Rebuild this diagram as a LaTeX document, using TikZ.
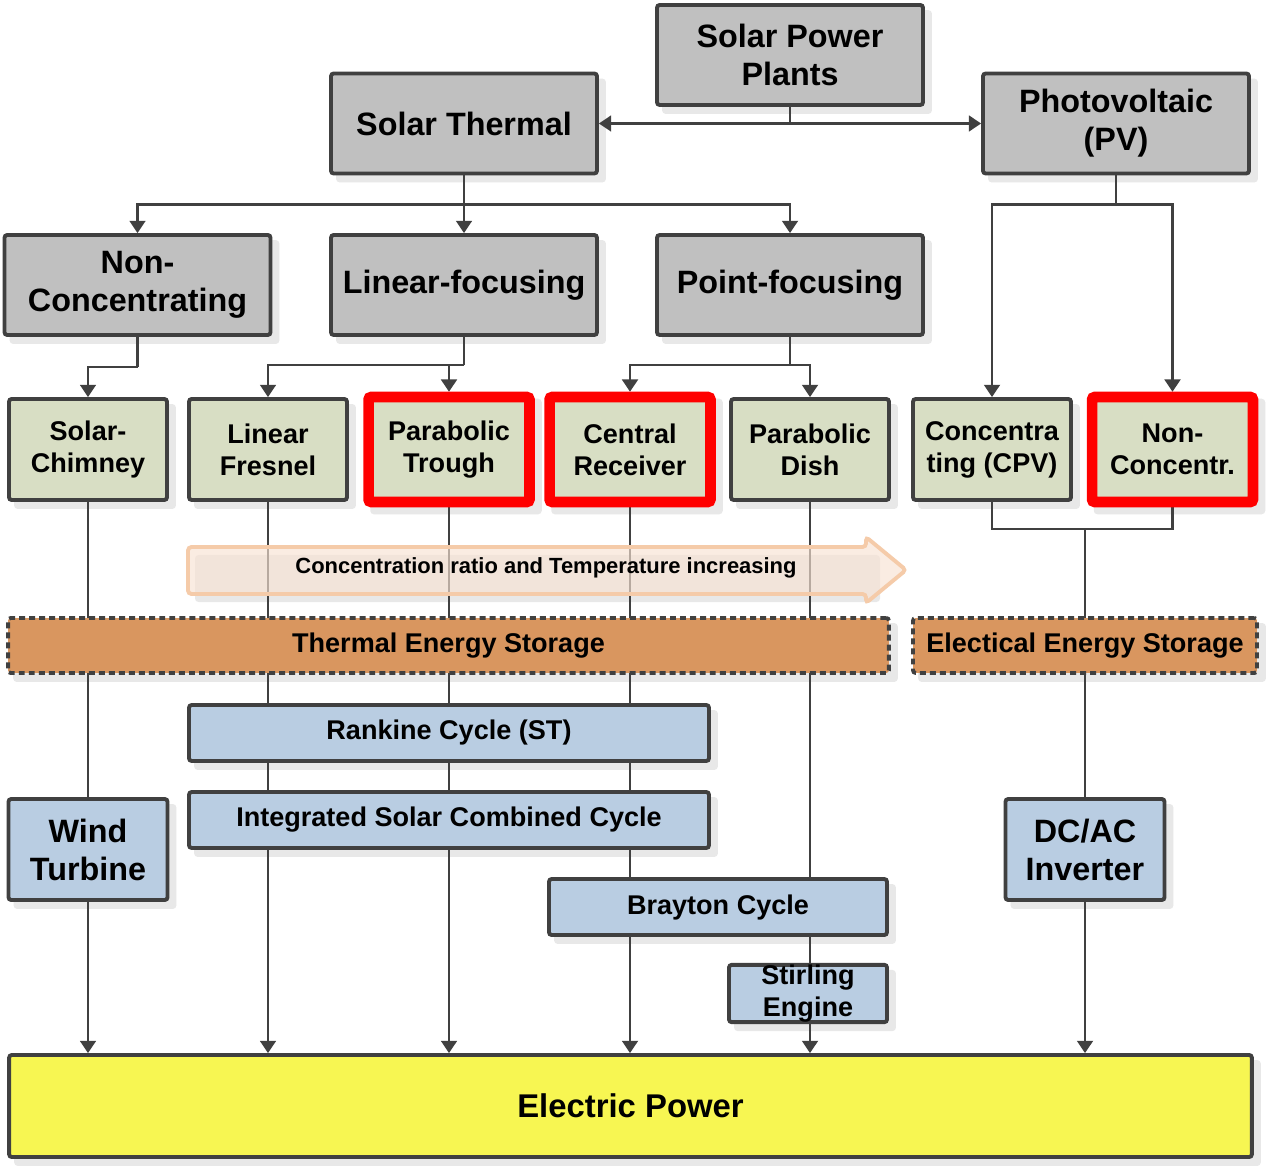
\documentclass[tikz,border=0pt]{standalone}
\usepackage{fontspec}
\setmainfont{Liberation Sans}
\usetikzlibrary{arrows.meta,calc}
\pgfdeclarelayer{shadowl}
\pgfdeclarelayer{lines}
\pgfsetlayers{shadowl,lines,main}
\definecolor{edge}{HTML}{404040}
\definecolor{grayfill}{HTML}{C0C0C0}
\definecolor{greenfill}{HTML}{D8DEC4}
\definecolor{bluefill}{HTML}{B9CDE2}
\definecolor{orangefill}{HTML}{D9965F}
\definecolor{yellowfill}{HTML}{F7F652}
\definecolor{arrowfill}{HTML}{F8E2D3}
\definecolor{arrowedge}{HTML}{F5CBA9}
\definecolor{shadowc}{HTML}{E8E8E8}
\definecolor{redc}{HTML}{FF0000}
\tikzset{
  basebox/.style={draw=edge, line width=2.2pt, rounded corners=1.5pt, align=center, inner sep=0pt, text=black},
  bigtxt/.style={font=\bfseries\fontsize{18.4}{21.6}\selectfont},
  smalltxt/.style={font=\bfseries\fontsize{15.4}{18.2}\selectfont},
  graybox/.style={basebox, bigtxt, fill=grayfill, minimum width=5.32cm, minimum height=2.0cm},
  leafbox/.style={basebox, smalltxt, fill=greenfill, minimum width=3.16cm, minimum height=2.02cm},
  redbox/.style={leafbox, draw=redc, line width=6pt, minimum width=3.22cm, minimum height=2.1cm},
  storebox/.style={basebox, smalltxt, fill=orangefill, dash pattern=on 3.4pt off 2.3pt, minimum height=1.1cm},
  cyclebox/.style={basebox, smalltxt, fill=bluefill, minimum height=1.12cm},
  bigblue/.style={basebox, bigtxt, fill=bluefill, minimum width=3.18cm, minimum height=2.02cm},
  conn/.style={draw=edge, line width=1.4pt},
  tip/.style={conn, -{Triangle[width=9pt,length=7pt]}}
}
\begin{document}
\begin{tikzpicture}[x=0.02cm,y=-0.02cm]
\useasboundingbox (0,0) rectangle (1267,1168);
% row 1
\node[graybox] (spp) at (790,55) {Solar Power\\Plants};
\node[graybox] (st) at (464,123.5) {Solar Thermal};
\node[graybox] (pv) at (1116,123.5) {Photovoltaic\\(PV)};
% row 2
\node[graybox] (nc) at (137.5,285) {Non-\\Concentrating};
\node[graybox] (lf) at (464,285) {Linear-focusing};
\node[graybox] (pf) at (790,285) {Point-focusing};
% row 3
\node[leafbox] (sc) at (88,449.5) {Solar-\\Chimney};
\node[leafbox] (lfr) at (268,449.5) {Linear\\Fresnel};
\node[redbox] (pt) at (449,449.5) {Parabolic\\Trough};
\node[redbox] (cr) at (630,449.5) {Central\\Receiver};
\node[leafbox] (pd) at (810,449.5) {Parabolic\\Dish};
\node[leafbox] (cpv) at (992,449.5) {Concentra\\ting (CPV)};
\node[redbox] (ncr) at (1172.5,449.5) {Non-\\Concentr.};
% storage
\node[storebox, minimum width=17.62cm] (tes) at (448.5,645.5) {Thermal Energy Storage};
\node[storebox, minimum width=6.88cm] (ees) at (1085,645.5) {Electical Energy Storage};
% cycles
\node[cyclebox, minimum width=10.4cm] (rk) at (449,733) {Rankine Cycle (ST)};
\node[cyclebox, minimum width=10.4cm] (isc) at (449,820) {Integrated Solar Combined Cycle};
\node[cyclebox, minimum width=6.76cm] (br) at (718,907) {Brayton Cycle};
\node[cyclebox, minimum width=3.16cm, minimum height=1.14cm] (se) at (808,993.5) {Stirling\\Engine};
\node[bigblue] (wt) at (88,849.5) {Wind\\Turbine};
\node[bigblue] (inv) at (1085,849.5) {DC/AC\\Inverter};
% output
\node[basebox, fill=yellowfill, minimum width=24.86cm, minimum height=2.04cm,
      font=\bfseries\fontsize{18.7}{22}\selectfont] (ep) at (630.5,1106) {Electric Power};

% shadows
\begin{pgfonlayer}{shadowl}
\fill[white] (0,0) rectangle (1267,1168);
\foreach \n in {spp,st,pv,nc,lf,pf,sc,lfr,pt,cr,pd,cpv,ncr,tes,ees,rk,isc,br,se,wt,inv,ep}
  \fill[shadowc, rounded corners=2pt] ($(\n.south west)+(7,7)$) rectangle ($(\n.north east)+(7,7)$);
\fill[shadowc, rounded corners=2pt] (195,555) rectangle (880,602);
\end{pgfonlayer}

% connectors
\begin{pgfonlayer}{lines}
\draw[tip] (spp.south) |- (st.east);
\draw[tip] (spp.south) |- (pv.west);
\draw[conn] (st.south) -- ++(0,29) coordinate (j2);
\draw[tip] (j2) -| (nc.north);
\draw[tip] (j2) -| (lf.north);
\draw[tip] (j2) -| (pf.north);
\draw[conn] (pv.south) -- ++(0,29) coordinate (j3);
\draw[tip] (j3) -| (cpv.north);
\draw[tip] (j3) -| (ncr.north);
\draw[conn] (nc.south) -- ++(0,30) coordinate (j4);
\draw[tip] (j4) -| (sc.north);
\draw[conn] (lf.south) -- ++(0,28) coordinate (j5);
\draw[tip] (j5) -| (lfr.north);
\draw[tip] (j5) -| (pt.north);
\draw[conn] (pf.south) -- ++(0,28) coordinate (j6);
\draw[tip] (j6) -| (cr.north);
\draw[tip] (j6) -| (pd.north);
\draw[conn] (sc.south) -- (wt.north);
\draw[tip] (wt.south) -- (wt.south |- ep.north);
\draw[tip] (lfr.south) -- (lfr.south |- ep.north);
\draw[tip] (pt.south) -- (pt.south |- ep.north);
\draw[tip] (cr.south) -- (cr.south |- ep.north);
\draw[tip] (pd.south) -- (pd.south |- ep.north);
\draw[conn] (cpv.south) -- ++(0,27) coordinate (j7) -| (ncr.south);
\draw[conn] (inv.north |- j7) -- (inv.north);
\draw[tip] (inv.south) -- (inv.south |- ep.north);
\end{pgfonlayer}

% concentration arrow
\draw[draw=arrowedge, fill=arrowfill, fill opacity=0.65, line width=2.2pt, rounded corners=2pt]
  (188,547) -- (866,547) -- (866,537) -- (906,570) -- (866,603) -- (866,594) -- (188,594) -- cycle;
\node[font=\bfseries\fontsize{12.5}{15}\selectfont] (ctext) at (546,568) {Concentration ratio and Temperature increasing};
\end{tikzpicture}
\end{document}
